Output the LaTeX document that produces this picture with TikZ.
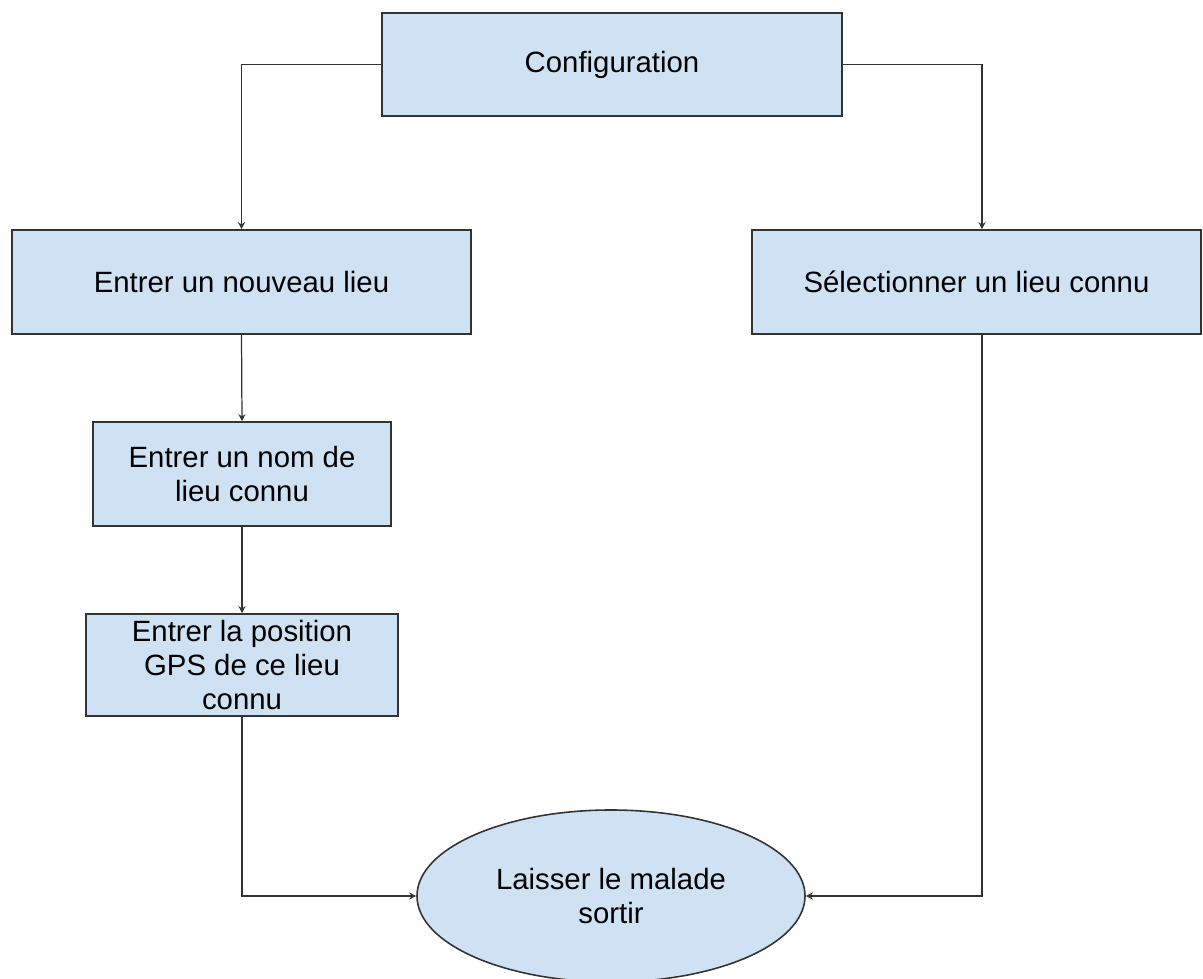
\documentclass[tikz,border=0pt]{standalone}
\usepackage{fontspec}
\setmainfont{Liberation Sans}
\usetikzlibrary{arrows.meta, shapes.geometric}
\definecolor{boxblue}{HTML}{CFE2F3}
\definecolor{edge}{HTML}{333333}

\begin{document}
\begin{tikzpicture}[
  box/.style={draw=edge, line width=0.9pt, fill=boxblue, align=center, inner sep=2pt,
    font=\fontsize{16.7}{19.3}\selectfont},
  oval/.style={ellipse, draw=edge, line width=0.9pt, fill=boxblue, align=center, inner sep=0pt,
    font=\fontsize{16.7}{19.3}\selectfont},
  flow/.style={-{Stealth[length=4pt, width=4pt]}, draw=edge, line width=0.7pt},
]
\useasboundingbox (0,0) rectangle (24.06,-19.58);

% noeuds
\node[box, minimum width=9.2cm, minimum height=2.06cm] (config) at (12.24,-1.29) {Configuration};
\node[box, minimum width=9.18cm, minimum height=2.08cm] (nouveau) at (4.83,-5.64) {Entrer un nouveau lieu};
\node[box, minimum width=8.98cm, minimum height=2.08cm] (select) at (19.53,-5.64) {Sélectionner un lieu connu};
\node[box, minimum width=5.96cm, minimum height=2.08cm] (nom) at (4.84,-9.48) {Entrer un nom de\\lieu connu};
\node[box, minimum width=6.24cm, minimum height=2.04cm] (gps) at (4.84,-13.3) {Entrer la position\\GPS de ce lieu\\connu};
\node[oval, minimum width=7.76cm, minimum height=3.44cm] (sortir) at (12.22,-17.92) {Laisser le malade\\sortir};

% liaisons
\draw[flow] (config.west) -| (nouveau.north);
\draw[flow] (config.east) -| ([xshift=0.11cm]select.north);
\draw[flow] (nouveau.south) -- (nom.north);
\draw[flow] (nom.south) -- (gps.north);
\draw[flow] (gps.south) |- (sortir.west);
\draw[flow] ([xshift=0.11cm]select.south) |- (sortir.east);

\end{tikzpicture}
\end{document}
